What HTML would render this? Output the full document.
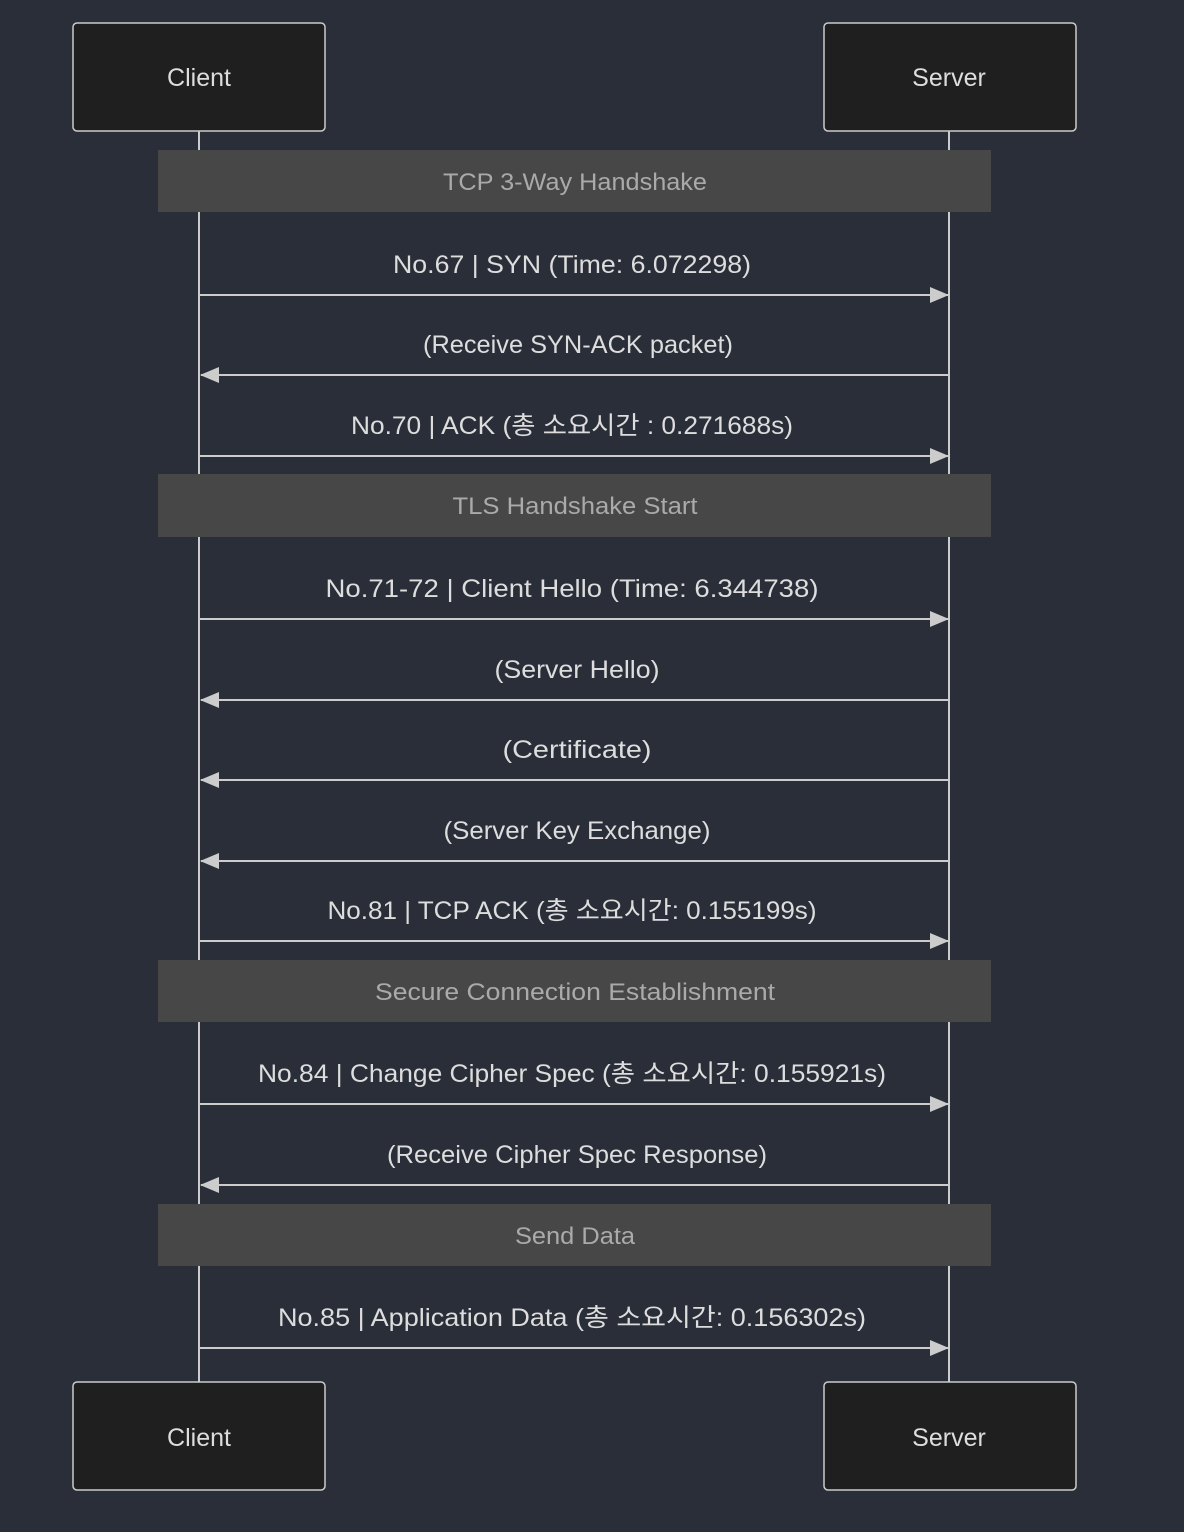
<!DOCTYPE html>
<html><head><meta charset="utf-8"><style>
html,body{margin:0;padding:0;background:#292e39;}
svg{display:block;}
text{font-family:"Liberation Sans","Noto Sans CJK KR",sans-serif;}
</style></head><body>
<svg width="1184" height="1532" viewBox="0 0 1184 1532" xmlns="http://www.w3.org/2000/svg">
<rect width="1184" height="1532" fill="#292e39"/>
<defs>
<marker id="ar" markerWidth="20" markerHeight="16" refX="18" refY="8" orient="auto" markerUnits="userSpaceOnUse">
<path d="M0,0 L19,8 L0,16 Z" fill="#cccccc"/></marker>
</defs>
<line x1="199" y1="131" x2="199" y2="1382" stroke="#cccccc" stroke-width="2"/>
<line x1="949" y1="131" x2="949" y2="1382" stroke="#cccccc" stroke-width="2"/>
<g fill="#1f1f1f" stroke="#cccccc" stroke-width="1.5">
<rect x="73" y="23" width="252" height="108" rx="4"/>
<rect x="824" y="23" width="252" height="108" rx="4"/>
<rect x="73" y="1382" width="252" height="108" rx="4"/>
<rect x="824" y="1382" width="252" height="108" rx="4"/>
</g>
<g fill="#dddddd" font-size="25" text-anchor="middle">
<text x="199" y="86">Client</text>
<text x="949" y="86">Server</text>
<text x="199" y="1446">Client</text>
<text x="949" y="1446">Server</text>
</g>
<g fill="#474747">
<rect x="158" y="150" width="833" height="62"/>
<rect x="158" y="474" width="833" height="63"/>
<rect x="158" y="960" width="833" height="62"/>
<rect x="158" y="1204" width="833" height="62"/>
</g>
<g fill="#aaaaaa" font-size="24" text-anchor="middle">
<text x="575" y="190" textLength="264" lengthAdjust="spacingAndGlyphs">TCP 3-Way Handshake</text>
<text x="575" y="514" textLength="245" lengthAdjust="spacingAndGlyphs">TLS Handshake Start</text>
<text x="575" y="1000" textLength="400" lengthAdjust="spacingAndGlyphs">Secure Connection Establishment</text>
<text x="575" y="1244" textLength="120" lengthAdjust="spacingAndGlyphs">Send Data</text>
</g>
<g stroke="#cccccc" stroke-width="2" marker-end="url(#ar)">
<line x1="200" y1="295" x2="948" y2="295"/>
<line x1="948" y1="375" x2="201" y2="375"/>
<line x1="200" y1="456" x2="948" y2="456"/>
<line x1="200" y1="619" x2="948" y2="619"/>
<line x1="948" y1="700" x2="201" y2="700"/>
<line x1="948" y1="780" x2="201" y2="780"/>
<line x1="948" y1="861" x2="201" y2="861"/>
<line x1="200" y1="941" x2="948" y2="941"/>
<line x1="200" y1="1104" x2="948" y2="1104"/>
<line x1="948" y1="1185" x2="201" y2="1185"/>
<line x1="200" y1="1348" x2="948" y2="1348"/>
</g>
<g fill="#dddddd" font-size="25" text-anchor="middle">
<text x="572" y="273" textLength="358" lengthAdjust="spacingAndGlyphs">No.67 | SYN (Time: 6.072298)</text>
<text x="578" y="353" textLength="310" lengthAdjust="spacingAndGlyphs">(Receive SYN-ACK packet)</text>
<text x="572" y="434" textLength="442" lengthAdjust="spacingAndGlyphs">No.70 | ACK (총 소요시간 : 0.271688s)</text>
<text x="572" y="597" textLength="493" lengthAdjust="spacingAndGlyphs">No.71-72 | Client Hello (Time: 6.344738)</text>
<text x="577" y="678" textLength="165" lengthAdjust="spacingAndGlyphs">(Server Hello)</text>
<text x="577" y="758" textLength="149" lengthAdjust="spacingAndGlyphs">(Certificate)</text>
<text x="577" y="839" textLength="267" lengthAdjust="spacingAndGlyphs">(Server Key Exchange)</text>
<text x="572" y="919" textLength="489" lengthAdjust="spacingAndGlyphs">No.81 | TCP ACK (총 소요시간: 0.155199s)</text>
<text x="572" y="1082" textLength="628" lengthAdjust="spacingAndGlyphs">No.84 | Change Cipher Spec (총 소요시간: 0.155921s)</text>
<text x="577" y="1163" textLength="380" lengthAdjust="spacingAndGlyphs">(Receive Cipher Spec Response)</text>
<text x="572" y="1326" textLength="588" lengthAdjust="spacingAndGlyphs">No.85 | Application Data (총 소요시간: 0.156302s)</text>
</g>
</svg>
</body></html>
